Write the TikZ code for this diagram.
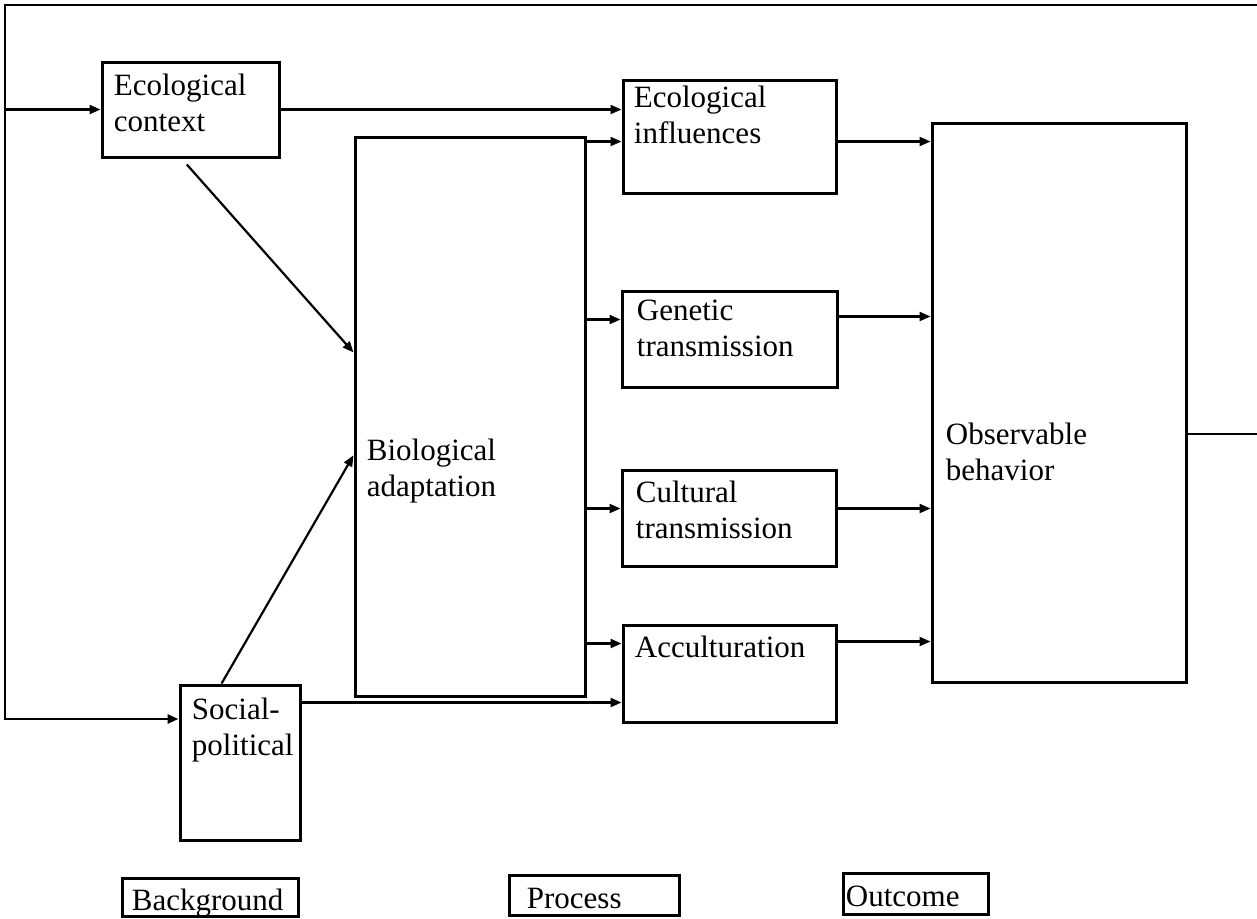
\documentclass[tikz,border=0pt]{standalone}
\usepackage{fontspec}
\setmainfont{Liberation Serif}
\usetikzlibrary{arrows.meta,fit,calc}

\begin{document}
\begin{tikzpicture}[x=0.5pt, y=-0.5pt, >={Triangle[length=5.5pt,width=4.5pt]},
	   font=\fontsize{15.5}{18}\selectfont,
	   box/.style={draw, line width=1.5pt, inner sep=0pt},
	   txt/.style={anchor=base west, align=left, inner sep=0pt},
	   arr/.style={->, line width=1.1pt}]
	  \useasboundingbox (0,0) rectangle (1257,918);
	  % boxes
	  \node[box, fit={(102,62) (279,157)}] (eco) {};
	  \node[box, fit={(355,137) (585,696)}] (bio) {};
	  \node[box, fit={(623,80) (836,193)}] (ecoinf) {};
	  \node[box, fit={(622,291) (837,387)}] (gen) {};
	  \node[box, fit={(622,470) (836,566)}] (cult) {};
	  \node[box, fit={(623,625) (836,722)}] (acc) {};
	  \node[box, fit={(932,123) (1186,682)}] (obs) {};
	  \node[box, fit={(180,685) (300,840)}] (soc) {};
	  \node[box, fit={(122,878) (298,916)}] (bg) {};
	  \node[box, fit={(509,875) (679,915)}] (proc) {};
	  \node[box, fit={(843,873) (988,914)}] (outc) {};
	  % texts (base = last line)
	  \node[txt] (eco-t) at ($(eco.north west)+(13,71)$) {Ecological\\context};
	  \node[txt] (bio-t) at ($(bio.north west)+(13,361)$) {Biological\\adaptation};
	  \node[txt] (ecoinf-t) at ($(ecoinf.north west)+(12,65)$) {Ecological\\influences};
	  \node[txt] (gen-t) at ($(gen.north west)+(16,67)$) {Genetic\\transmission};
	  \node[txt] (cult-t) at ($(cult.north west)+(15,70)$) {Cultural\\transmission};
	  \node[txt] (acc-t) at ($(acc.north west)+(13,34)$) {Acculturation};
	  \node[txt] (obs-t) at ($(obs.north west)+(15,359)$) {Observable\\behavior};
	  \node[txt] (soc-t) at ($(soc.north west)+(13,72)$) {Social-\\political};
	  \node[txt] (bg-t) at ($(bg.north west)+(11,34)$) {Background};
	  \node[txt] (proc-t) at ($(proc.north west)+(19,35)$) {Process};
	  \node[txt] (outc-t) at ($(outc.north west)+(4,35)$) {Outcome};
	  % feedback loop
	  \coordinate (tl) at (5,5);
	  \coordinate (tr) at (1265,5);
	  \coordinate (fb) at (1265,434);
	  \coordinate (bl) at (5,719);
	  \draw[arr, line width=1.4pt] (obs.east |- fb) -- (fb) -- (tr) -- (tl) -- (bl) -- (bl -| soc.west);
	  \draw[arr] (tl |- eco.west) -- (eco.west);
	  % background to process
	  \draw[arr] (eco.east) -- (eco.east -| ecoinf.west);
	  \draw[arr, shorten <=4pt] ($(eco.south west)!.45!(eco.south east)$) -- ($(bio.north west)!.386!(bio.south west)$);
	  \draw[arr] ($(soc.north west)!.35!(soc.north east)$) -- ($(bio.north west)!.569!(bio.south west)$);
	  \coordinate (s0) at ($(soc.north east)+(0,19)$);
	  \draw[arr] (s0) -- (s0 -| acc.west);
	  % process to outcome
	  \foreach \n/\d in {ecoinf/63, gen/30, cult/40, acc/20} {
	    \coordinate (t) at ($(\n.north west)+(0,\d)$);
	    \draw[arr] (bio.east |- t) -- (t);
	  }
	  \foreach \n/\d in {ecoinf/63, gen/27, cult/40, acc/18} {
	    \coordinate (s) at ($(\n.north east)+(0,\d)$);
	    \draw[arr] (s) -- (s -| obs.west);
	  }
	\end{tikzpicture}
\end{document}
